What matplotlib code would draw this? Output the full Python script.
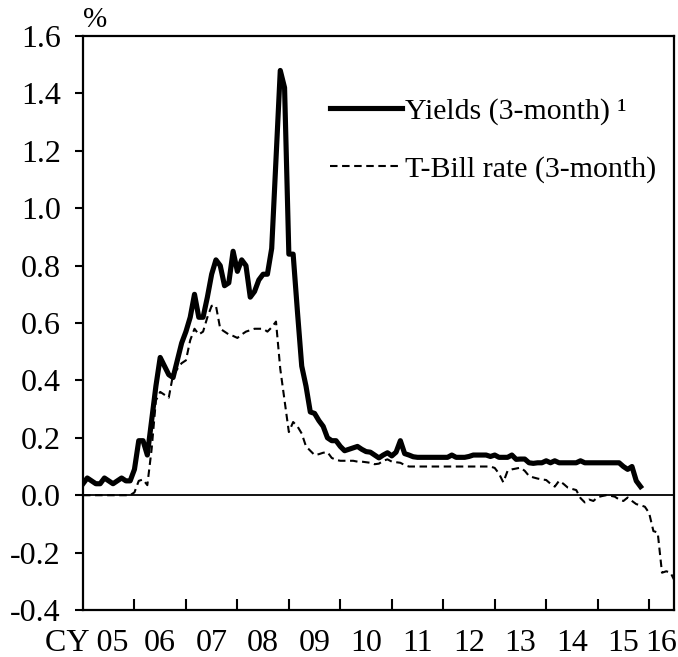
import numpy as np
import matplotlib
matplotlib.use('Agg')
import matplotlib.pyplot as plt
from matplotlib.ticker import FixedLocator, FixedFormatter

plt.rcParams['font.family'] = ['Liberation Serif', 'DejaVu Serif']
plt.rcParams['axes.unicode_minus'] = False

# monthly data, Jan 2005 onwards (percent)
yields_3m = [
    0.04, 0.06, 0.05, 0.04, 0.04, 0.06, 0.05, 0.04, 0.05, 0.06, 0.05, 0.05,   # 2005
    0.09, 0.19, 0.19, 0.14, 0.26, 0.38, 0.48, 0.45, 0.42, 0.41, 0.47, 0.53,   # 2006
    0.57, 0.62, 0.70, 0.62, 0.62, 0.69, 0.77, 0.82, 0.80, 0.73, 0.74, 0.85,   # 2007
    0.78, 0.82, 0.80, 0.69, 0.71, 0.75, 0.77, 0.77, 0.86, 1.17, 1.48, 1.42,   # 2008
    0.84, 0.84, 0.64, 0.45, 0.38, 0.29, 0.285, 0.26, 0.24, 0.20, 0.19, 0.19,  # 2009
    0.17, 0.155, 0.16, 0.165, 0.17, 0.16, 0.152, 0.15, 0.14, 0.13, 0.14, 0.148,  # 2010
    0.137, 0.15, 0.19, 0.145, 0.14, 0.134, 0.132, 0.132, 0.132, 0.132, 0.132, 0.132,  # 2011
    0.132, 0.132, 0.14, 0.132, 0.132, 0.132, 0.135, 0.14, 0.14, 0.14, 0.14, 0.135,  # 2012
    0.14, 0.132, 0.132, 0.132, 0.14, 0.125, 0.126, 0.126, 0.113, 0.111, 0.113, 0.113,  # 2013
    0.12, 0.113, 0.12, 0.113, 0.113, 0.113, 0.113, 0.113, 0.12, 0.113, 0.113, 0.113,  # 2014
    0.113, 0.113, 0.113, 0.113, 0.113, 0.113, 0.10, 0.09, 0.10, 0.05, 0.03,          # 2015-16
]

tbill_3m = [
    0.0, 0.0, 0.0, 0.0, 0.0, 0.0, 0.0, 0.0, 0.0, 0.0, 0.0, 0.0,               # 2005
    0.01, 0.05, 0.055, 0.035, 0.16, 0.33, 0.36, 0.35, 0.34, 0.42, 0.44, 0.46,  # 2006
    0.47, 0.54, 0.58, 0.56, 0.57, 0.62, 0.66, 0.66, 0.58, 0.57, 0.56, 0.555,   # 2007
    0.548, 0.56, 0.57, 0.575, 0.58, 0.58, 0.58, 0.57, 0.585, 0.605, 0.44, 0.33,  # 2008
    0.22, 0.255, 0.24, 0.215, 0.17, 0.155, 0.14, 0.143, 0.148, 0.15, 0.13, 0.123,  # 2009
    0.12, 0.12, 0.12, 0.12, 0.117, 0.117, 0.115, 0.113, 0.108, 0.11, 0.12, 0.125,  # 2010
    0.117, 0.115, 0.113, 0.105, 0.10, 0.10, 0.10, 0.10, 0.10, 0.10, 0.10, 0.10,   # 2011
    0.10, 0.10, 0.10, 0.10, 0.10, 0.10, 0.10, 0.10, 0.10, 0.10, 0.10, 0.10,       # 2012
    0.095, 0.075, 0.045, 0.085, 0.09, 0.093, 0.096, 0.085, 0.067, 0.062, 0.058, 0.055,  # 2013
    0.053, 0.04, 0.03, 0.05, 0.04, 0.027, 0.022, 0.018, -0.01, -0.025, -0.015, -0.02,  # 2014
    -0.007, -0.003, 0.0, -0.002, -0.005, -0.015, -0.02, -0.008, -0.02, -0.031, -0.035, -0.04,  # 2015
    -0.062, -0.125, -0.13, -0.27, -0.265, -0.27, -0.30,                          # 2016
]

year_labels = ['05', '06', '07', '08', '09', '10', '11', '12', '13', '14', '15', '16']
legend_labels = ['Yields (3-month) \u00b9', 'T-Bill rate (3-month)']

fs = 23
x_end = 137.8

fig = plt.figure(figsize=(6.78, 6.57), dpi=100)
ax = fig.add_axes([0.1224, 0.0715, 0.8717, 0.8737])

ax.plot(np.arange(len(yields_3m)), yields_3m, color='black', lw=3.7,
        solid_joinstyle='round', label=legend_labels[0])
ax.plot(np.arange(len(tbill_3m)), tbill_3m, color='black', lw=1.5,
        dashes=(3.6, 2.2), label=legend_labels[1])
ax.axhline(0, color='black', lw=1.3)

ax.set_xlim(0, x_end)
ax.set_ylim(-0.4, 1.6)
ax.set_yticks(np.arange(-0.4, 1.61, 0.2))
ax.set_yticklabels(['%.1f' % v for v in np.arange(-0.4, 1.61, 0.2)], fontsize=fs)

bounds = [12 * i for i in range(len(year_labels))] + [x_end]
centers = [(bounds[i] + bounds[i + 1]) / 2 for i in range(len(year_labels))]
ax.xaxis.set_major_locator(FixedLocator(bounds[1:-1]))
ax.xaxis.set_major_formatter(FixedFormatter([]))
ax.xaxis.set_minor_locator(FixedLocator(centers))
ax.xaxis.set_minor_formatter(FixedFormatter([''] + year_labels[1:]))

ax.tick_params(axis='x', which='major', direction='in', length=8, width=1.5)
ax.tick_params(axis='x', which='minor', length=0, labelsize=fs, pad=14)
ax.tick_params(axis='y', direction='out', length=6, width=1.5, pad=10)

for s in ax.spines.values():
    s.set_linewidth(1.6)

# first year label carries the "CY" prefix, right-aligned near the first tick
ax.annotate('CY ' + year_labels[0], xy=(centers[0], 0),
            xycoords=('data', 'axes fraction'),
            xytext=(14, -14), textcoords='offset points',
            ha='right', va='top', fontsize=fs)
ax.annotate('%', xy=(0.02, 1.0), xycoords='axes fraction',
            xytext=(0, 2), textcoords='offset points',
            ha='center', va='bottom', fontsize=21)

ax.legend(loc='upper left', bbox_to_anchor=(0.418, 0.893), frameon=False,
          fontsize=21.5, handlelength=2.4, handletextpad=0.1, labelspacing=1.05,
          borderpad=0, borderaxespad=0)

fig.savefig('out.png', dpi=100)
